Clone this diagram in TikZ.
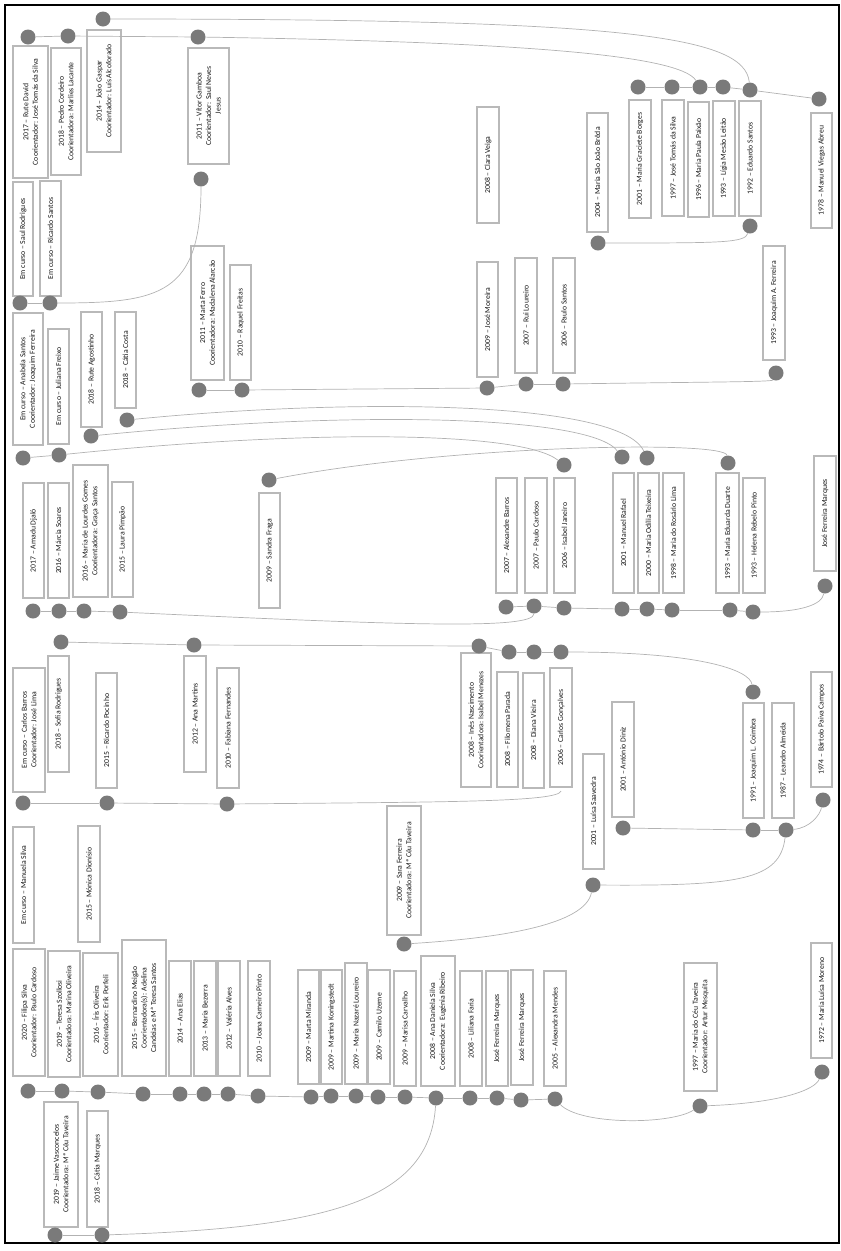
\documentclass[tikz,border=0pt]{standalone}
\usepackage{fontspec}
\setmainfont{Carlito}

% one thesis box: name, x, y, length, thickness, text
\newcommand{\tese}[6]{%
  \node[tese, minimum width=#4pt, minimum height=#5pt] (#1) at (#2,#3) {#6};
}

\begin{document}
\begin{tikzpicture}[x=1pt, y=-1pt,
    tese/.style={draw=gray!55, line width=1.1pt, fill=white, rotate=90,
      align=center, inner sep=1pt, text=black!90,
      font=\fontsize{7.7}{9.6}\selectfont},
    ponto/.style={circle, fill=black!52, inner sep=0pt, minimum size=15pt},
    liga/.style={draw=gray!60, line width=0.7pt}
  ]
\useasboundingbox (0,0) rectangle (841,1251);
\draw[line width=1.6pt] (5,5) rectangle (839,1243);

% =================== top band ===================
\tese{david}{30.5}{112}{132}{35}{2017 -- Rute David\\Coorientador: José Tomás da Silva}
\tese{cordeiro}{66}{111.5}{127}{30}{2018 -- Pedro Cordeiro\\Coorientadora: Marlies Lacante}
\tese{gaspar}{104}{91}{122}{34}{2014 -- João Gaspar\\Coorientador: Luís Alcoforado}
\tese{gamboa}{208.5}{106}{116}{41}{2011 -- Vítor Gamboa\\Coorientador: Saul Neves\\Jesus}
\tese{saul}{23}{239}{114}{20}{Em curso -- Saul Rodrigues}
\tese{ricardo}{50.5}{238.5}{115}{21}{Em curso -- Ricardo Santos}
\tese{ferro}{207.5}{313}{134}{33}{2011 -- Marta Ferro\\Coorientadora: Madalena Alarcão}
\tese{freitas}{240.5}{322.5}{115}{21}{2010 -- Raquel Freitas}
\tese{anabela}{28}{379}{132}{30}{Em curso -- Anabela Santos\\Coorientador: Joaquim Ferreira}
\tese{juliana}{58.5}{386.5}{115}{21}{Em curso -- Juliana Freixo}
\tese{agostinho}{91.5}{369.5}{115}{21}{2018 -- Rute Agostinho}
\tese{costa}{125.5}{360}{96}{21}{2018 -- Cátia Costa}
\tese{veiga}{488}{165}{116}{22}{2008 -- Clara Veiga}
\tese{moreira}{487.5}{319.5}{115}{21}{2009 -- José Moreira}
\tese{loureiro}{526}{315.5}{115}{22}{2007 -- Rui Loureiro}
\tese{santosP}{564}{315.5}{115}{22}{2006 -- Paulo Santos}
\tese{breda}{597.5}{172.5}{119}{21}{2004 -- Maria São João Brêda}
\tese{borges}{640}{159}{118}{22}{2001 -- Maria Graciete Borges}
\tese{tomas}{673}{158}{116}{22}{1997 -- José Tomás da Silva}
\tese{paixao}{698.5}{159.5}{115}{21}{1996 -- Maria Paula Paixão}
\tese{leitao}{724}{158.5}{115}{22}{1993 -- Lígia Mesão Leitão}
\tese{eduardo}{750}{158.5}{115}{22}{1992 -- Eduardo Santos}
\tese{abreu}{821.5}{170.5}{115}{21}{1978 -- Manuel Viegas Abreu}
\tese{ferreiraJA}{774}{303}{114}{22}{1993 -- Joaquim A. Ferreira}

% =================== middle band ===================
\tese{djalo}{33.5}{540.5}{115}{21}{2017 -- Amadu Djaló}
\tese{soares}{58.5}{540.5}{115}{21}{2016 -- Márcia Soares}
\tese{gomes}{90.5}{531}{132}{35}{2016 -- Maria de Lourdes Gomes\\Coorientadora: Graça Santos}
\tese{pimpao}{122.5}{539.5}{115}{21}{2015 -- Laura Pimpão}
\tese{fraga}{269.5}{550.5}{115}{21}{2009 -- Sandra Fraga}
\tese{barrosA}{506.5}{535.5}{115}{21}{2007 -- Alexandre Barros}
\tese{cardoso}{536}{535.5}{115}{22}{2007 -- Paulo Cardoso}
\tese{janeiro}{564.5}{535.5}{115}{21}{2006 -- Isabel Janeiro}
\tese{rafael}{623.5}{533}{120}{21}{2001 -- Manuel Rafael}
\tese{teixeira}{648.5}{533}{120}{21}{2000 -- Maria Odília Teixeira}
\tese{lima}{673.5}{533}{120}{21}{1998 -- Maria do Rosário Lima}
\tese{duarte}{727.5}{533}{120}{23}{1993 -- Maria Eduarda Duarte}
\tese{pinto}{754}{535.5}{115}{22}{1993 -- Helena Rebelo Pinto}
\tese{marques}{825}{513.5}{115}{22}{José Ferreira Marques}

\tese{barrosC}{29}{730}{124}{32}{Em curso -- Carlos Barros\\Coorientador: José Lima}
\tese{sofia}{58.5}{714}{116}{21}{2018 -- Sofia Rodrigues}
\tese{pocinho}{106.5}{730.5}{115}{21}{2015 -- Ricardo Pocinho}
\tese{martins}{195}{714}{116}{22}{2012 -- Ana Martins}
\tese{fernandes}{228}{728}{120}{22}{2010 -- Fabiana Fernandes}
\tese{manuela}{23.5}{885}{116}{21}{Em curso -- Manuela Silva}
\tese{dionisio}{89}{884}{116}{22}{2015 -- Mónica Dionísio}
\tese{nascimento}{476}{720}{134}{30}{2008 -- Inês Nascimento\\Coorientadora: Isabel Menezes}
\tese{parada}{507.5}{729.5}{115}{21}{2008 -- Filomena Parada}
\tese{vieira}{533.5}{730.5}{115}{21}{2008 -- Diana Vieira}
\tese{goncalves}{561}{727.5}{119}{22}{2006 -- Carlos Gonçalves}
\tese{sara}{404}{870.5}{129}{34}{2009 -- Sara Ferreira\\Coorientadora: Mª Céu Taveira}
\tese{saavedra}{593.5}{811.5}{115}{21}{2001 -- Luísa Saavedra}
\tese{diniz}{623}{759.5}{115}{22}{2001 -- António Diniz}
\tese{coimbra}{753.5}{760.5}{115}{21}{1991 -- Joaquim L. Coimbra}
\tese{almeida}{783}{760.5}{115}{22}{1987 -- Leandro Almeida}
\tese{campos}{821.5}{729.5}{115}{21}{1974 -- Bártolo Paiva Campos}

% =================== bottom band ===================
\tese{filipa}{29}{1012.5}{127}{32}{2020 -- Filipa Silva\\Coorientador: Paulo Cardoso}
\tese{teresa}{64}{1014}{126}{32}{2019 -- Teresa Szollosi\\Coorientadora: Marina Oliveira}
\tese{iris}{100.5}{1014.5}{123}{35}{2016 -- Íris Oliveira\\Coorientador: Erik Porfeli}
\tese{bernardino}{144}{1008}{136}{44}{2015 -- Bernardino Meigão\\Coorientadora(s): Adelina\\Candeias e Mª Teresa Santos}
\tese{elias}{180}{1018.5}{115}{22}{2014 -- Ana Elias}
\tese{bezerra}{205}{1018.5}{115}{22}{2013 -- Maria Bezerra}
\tese{alves}{229}{1018.5}{115}{22}{2012 -- Valéria Alves}
\tese{joana}{259}{1018.5}{115}{22}{2010 -- Joana Carneiro Pinto}
\tese{jaime}{61}{1164.5}{125}{34}{2019 -- Jaime Vasconcelos\\Coorientadora: Mª Céu Taveira}
\tese{catiaM}{97.5}{1169}{116}{21}{2018 -- Cátia Marques}
\tese{miranda}{308.5}{1027}{114}{21}{2009 -- Marta Miranda}
\tese{koning}{331.5}{1027}{114}{21}{2009 -- Martina Koningstedt}
\tese{nazare}{356}{1023.5}{121}{22}{2009 -- Maria Nazaré Loureiro}
\tese{camilo}{379}{1027}{114}{22}{2009 -- Camilo Uzeme}
\tese{carvalho}{405}{1028.5}{115}{22}{2009 -- Marisa Carvalho}
\tese{daniela}{438}{1021}{130}{34}{2008 -- Ana Daniela Silva\\Coorientadora: Eugénia Ribeiro}
\tese{faria}{471}{1028.5}{115}{22}{2008 -- Liliana Faria}
\tese{jfmA}{497}{1028.5}{115}{22}{José Ferreira Marques}
\tese{jfmB}{522}{1027.5}{115}{22}{José Ferreira Marques}
\tese{mendes}{555}{1028.5}{115}{22}{2005 -- Alexandra Mendes}
\tese{taveira}{700.5}{1027}{128}{33}{1997 -- Maria do Céu Taveira\\Coorientador: Artur Mesquita}
\tese{moreno}{821.5}{1000.5}{115}{21}{1972 -- Maria Luísa Moreno}

% =================== dots ===================
\foreach \n/\x/\y in {
    pGaspar/103/19, pDavid/28/37, pCordeiro/68/36, pGamboa/198/37,
    pGamboaB/201/179, pSaul/20/303, pRicardo/50/303,
    pBorges/638/87, pTomas/672/87, pPaixao/700/87, pLeitao/723/87,
    pEduardo/750/90, pAbreu/819/99, pEduardoB/750/226, pBreda/598/243,
    pFerreiraJA/776/373, pFerro/199/390, pFreitas/242/390,
    pMoreira/487/388, pLoureiro/526/384, pSantosP/563/384,
    pCosta/127/420, pAgostinho/91/436, pAnabela/23/458, pJuliana/59/455,
    pFraga/269/480, pJaneiroT/564/465, pRafaelT/622/457,
    pTeixeiraT/647/458, pDuarteT/728/463,
    pDjalo/33/611, pSoares/59/611, pGomes/84/611, pPimpao/120/612,
    pBarrosA/506/607, pCardoso/534/606, pJaneiro/564/608, pRafael/622/609,
    pTeixeira/647/609, pLima/672/610, pDuarte/730/610, pPinto/753/612,
    pMarques/825/586,
    pSofia/61/642, pMartins/194/645, pNascimento/479/646, pParada/509/652,
    pVieira/534/652, pGoncalves/561/652, pCoimbraT/753/692,
    pBarrosC/23/803, pPocinho/107/803, pFernandes/227/804,
    pDiniz/623/828, pCoimbra/753/830, pAlmeida/786/830, pCampos/823/800,
    pSaavedra/593/885, pSara/404/944,
    pFilipa/28/1091, pTeresa/62/1091, pIris/98/1092, pBernardino/143/1094,
    pElias/180/1094, pBezerra/204/1094, pAlves/228/1094, pJoana/258/1096,
    pMiranda/311/1097, pKoning/331/1096, pNazare/356/1096, pCamilo/378/1097,
    pCarvalho/405/1097, pDaniela/436/1098, pFaria/470/1098, pJfmA/497/1098,
    pJfmB/521/1100, pMendes/555/1099, pTaveira/700/1106, pMoreno/822/1072,
    pJaime/55/1235, pCatiaM/102/1235}
  \node[ponto] (\n) at (\x,\y) {};
\coordinate (cGoncalves) at (561,791);

% =================== chains ===================
\foreach \a/\b in {pDavid/pCordeiro, pCordeiro/pGamboa, pSaul/pRicardo,
    pBorges/pTomas, pTomas/pPaixao, pPaixao/pLeitao, pLeitao/pEduardo,
    pEduardo/pAbreu, pFerro/pFreitas, pFreitas/pMoreira, pMoreira/pLoureiro,
    pLoureiro/pSantosP, pAnabela/pJuliana, pDjalo/pSoares, pSoares/pGomes,
    pGomes/pPimpao, pBarrosA/pCardoso, pCardoso/pJaneiro, pJaneiro/pRafael,
    pRafael/pTeixeira, pTeixeira/pLima, pLima/pDuarte, pDuarte/pPinto,
    pSofia/pMartins, pMartins/pNascimento, pNascimento/pParada,
    pParada/pVieira, pVieira/pGoncalves, pBarrosC/pPocinho,
    pPocinho/pFernandes, pDiniz/pCoimbra, pCoimbra/pAlmeida,
    pFilipa/pTeresa, pTeresa/pIris, pIris/pBernardino, pBernardino/pElias,
    pElias/pBezerra, pBezerra/pAlves, pAlves/pJoana, pJoana/pMiranda,
    pMiranda/pKoning, pKoning/pNazare, pNazare/pCamilo, pCamilo/pCarvalho,
    pCarvalho/pDaniela, pDaniela/pFaria, pFaria/pJfmA, pJfmA/pJfmB,
    pJfmB/pMendes, pJaime/pCatiaM}
  \draw[liga] (\a) -- (\b);

% =================== supervisor links ===================
\draw[liga] (pGaspar) .. controls (620,19) and (745,35) .. (pEduardo);
\draw[liga] (pGamboa) .. controls (520,42) and (680,55) .. (pPaixao);
\draw[liga] (pGamboaB) .. controls (201,295) and (160,303) .. (pRicardo);
\draw[liga] (pEduardoB) .. controls (745,243) and (720,243) .. (pBreda);
\draw[liga] (pSantosP) .. controls (700,382) and (772,382) .. (pFerreiraJA);
\draw[liga] (pCosta) .. controls (350,398) and (620,400) .. (pTeixeiraT);
\draw[liga] (pAgostinho) .. controls (350,410) and (590,415) .. (pRafaelT);
\draw[liga] (pJuliana) .. controls (300,430) and (520,430) .. (pJaneiroT);
\draw[liga] (pFraga) .. controls (450,445) and (725,440) .. (pDuarteT);
\draw[liga] (pPimpao) .. controls (400,625) and (534,630) .. (pCardoso);
\draw[liga] (pPinto) .. controls (800,612) and (822,605) .. (pMarques);
\draw[liga] (pGoncalves) .. controls (700,652) and (750,670) .. (pCoimbraT);
\draw[liga] (pFernandes) .. controls (450,802) and (558,802) .. (cGoncalves);
\draw[liga] (pAlmeida) .. controls (810,828) and (820,815) .. (pCampos);
\draw[liga] (pAlmeida) .. controls (780,880) and (740,886) .. (pSaavedra);
\draw[liga] (pSaavedra) .. controls (585,925) and (500,938) .. (pSara);
\draw[liga] (pMendes) .. controls (580,1125) and (670,1125) .. (pTaveira);
\draw[liga] (pTaveira) .. controls (780,1103) and (815,1090) .. (pMoreno);
\draw[liga] (pDaniela) .. controls (430,1200) and (330,1228) .. (pCatiaM);

\end{tikzpicture}
\end{document}
